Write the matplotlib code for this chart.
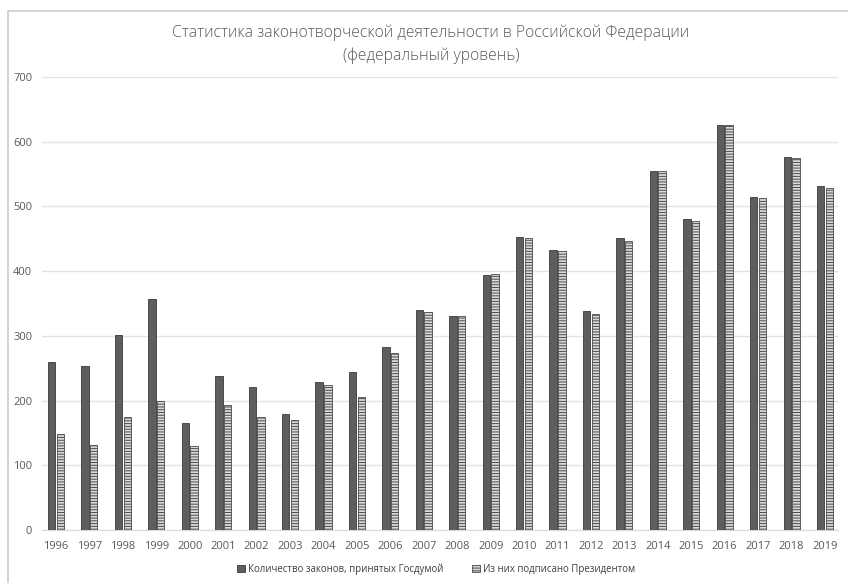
import matplotlib
matplotlib.use("Agg")
import matplotlib.pyplot as plt
import numpy as np
from matplotlib.patches import Rectangle

years = ["1996", "1997", "1998", "1999", "2000", "2001", "2002", "2003", "2004", "2005",
         "2006", "2007", "2008", "2009", "2010", "2011", "2012", "2013", "2014", "2015",
         "2016", "2017", "2018", "2019"]
passed = [259, 254, 301, 357, 166, 238, 221, 180, 228, 244,
          283, 340, 331, 394, 452, 432, 338, 451, 555, 480,
          626, 514, 576, 531]
signed = [148, 131, 175, 199, 130, 193, 175, 170, 224, 205,
          273, 337, 330, 395, 451, 431, 334, 447, 555, 478,
          626, 513, 575, 529]
yticks = [0, 100, 200, 300, 400, 500, 600, 700]
title = "Статистика законотворческой деятельности в Российской Федерации\n(федеральный уровень)"
label_passed = "Количество законов, принятых Госдумой"
label_signed = "Из них подписано Президентом"

plt.rcParams['font.family'] = ['Open Sans', 'DejaVu Sans']
plt.rcParams['hatch.linewidth'] = 0.7
plt.rcParams['hatch.color'] = '#555555'

fig = plt.figure(figsize=(8.48, 5.83), dpi=100)
W, H = 848, 583

# outer chart-area frame (left and top visible)
fig.patches.append(Rectangle((8 / W, -0.1), 1.2, (H - 11) / H + 0.1, transform=fig.transFigure,
                             fill=False, edgecolor='#cccccc', linewidth=1.2))

ax = fig.add_axes([42 / W, (H - 530) / H, (838 - 42) / W, (530 - 77) / H])
x = np.arange(len(years))
bw = 0.22
ax.bar(x - 0.13, passed, width=bw, color='#5e5e5e', edgecolor='#3a3a3a', linewidth=0.6,
       label=label_passed, zorder=3)
ax.bar(x + 0.13, signed, width=bw, color='#dadada', edgecolor='#4a4a4a', linewidth=0.6,
       hatch='------', label=label_signed, zorder=3)

ax.set_xlim(-0.42, len(years) - 1 + 0.39)
ax.set_ylim(0, 700)
ax.set_yticks(yticks)
ax.set_yticklabels([str(v) for v in yticks])
ax.set_xticks(x)
ax.set_xticklabels(years)
ax.tick_params(axis='both', length=0, labelsize=8, colors='#595959')
ax.tick_params(axis='y', pad=7)
ax.tick_params(axis='x', pad=8)
for s in ['top', 'right', 'left']:
    ax.spines[s].set_visible(False)
ax.spines['bottom'].set_color('#d9d9d9')
ax.grid(axis='y', color='#e3e3e3', linewidth=1.0, zorder=0)
ax.set_axisbelow(True)

fig.text(0.508, (H - 44) / H, title, ha='center', va='center', fontsize=11.3,
         color='#595959', linespacing=1.5, fontweight='light')

leg = ax.legend(loc='center', bbox_to_anchor=(436 / W, (H - 569) / H),
                bbox_transform=fig.transFigure, ncol=2, frameon=False, fontsize=6.9,
                handlelength=0.8, handleheight=0.8, handletextpad=0.3, columnspacing=3)
for t in leg.get_texts():
    t.set_color('#404040')

fig.savefig("out.png", dpi=100)
